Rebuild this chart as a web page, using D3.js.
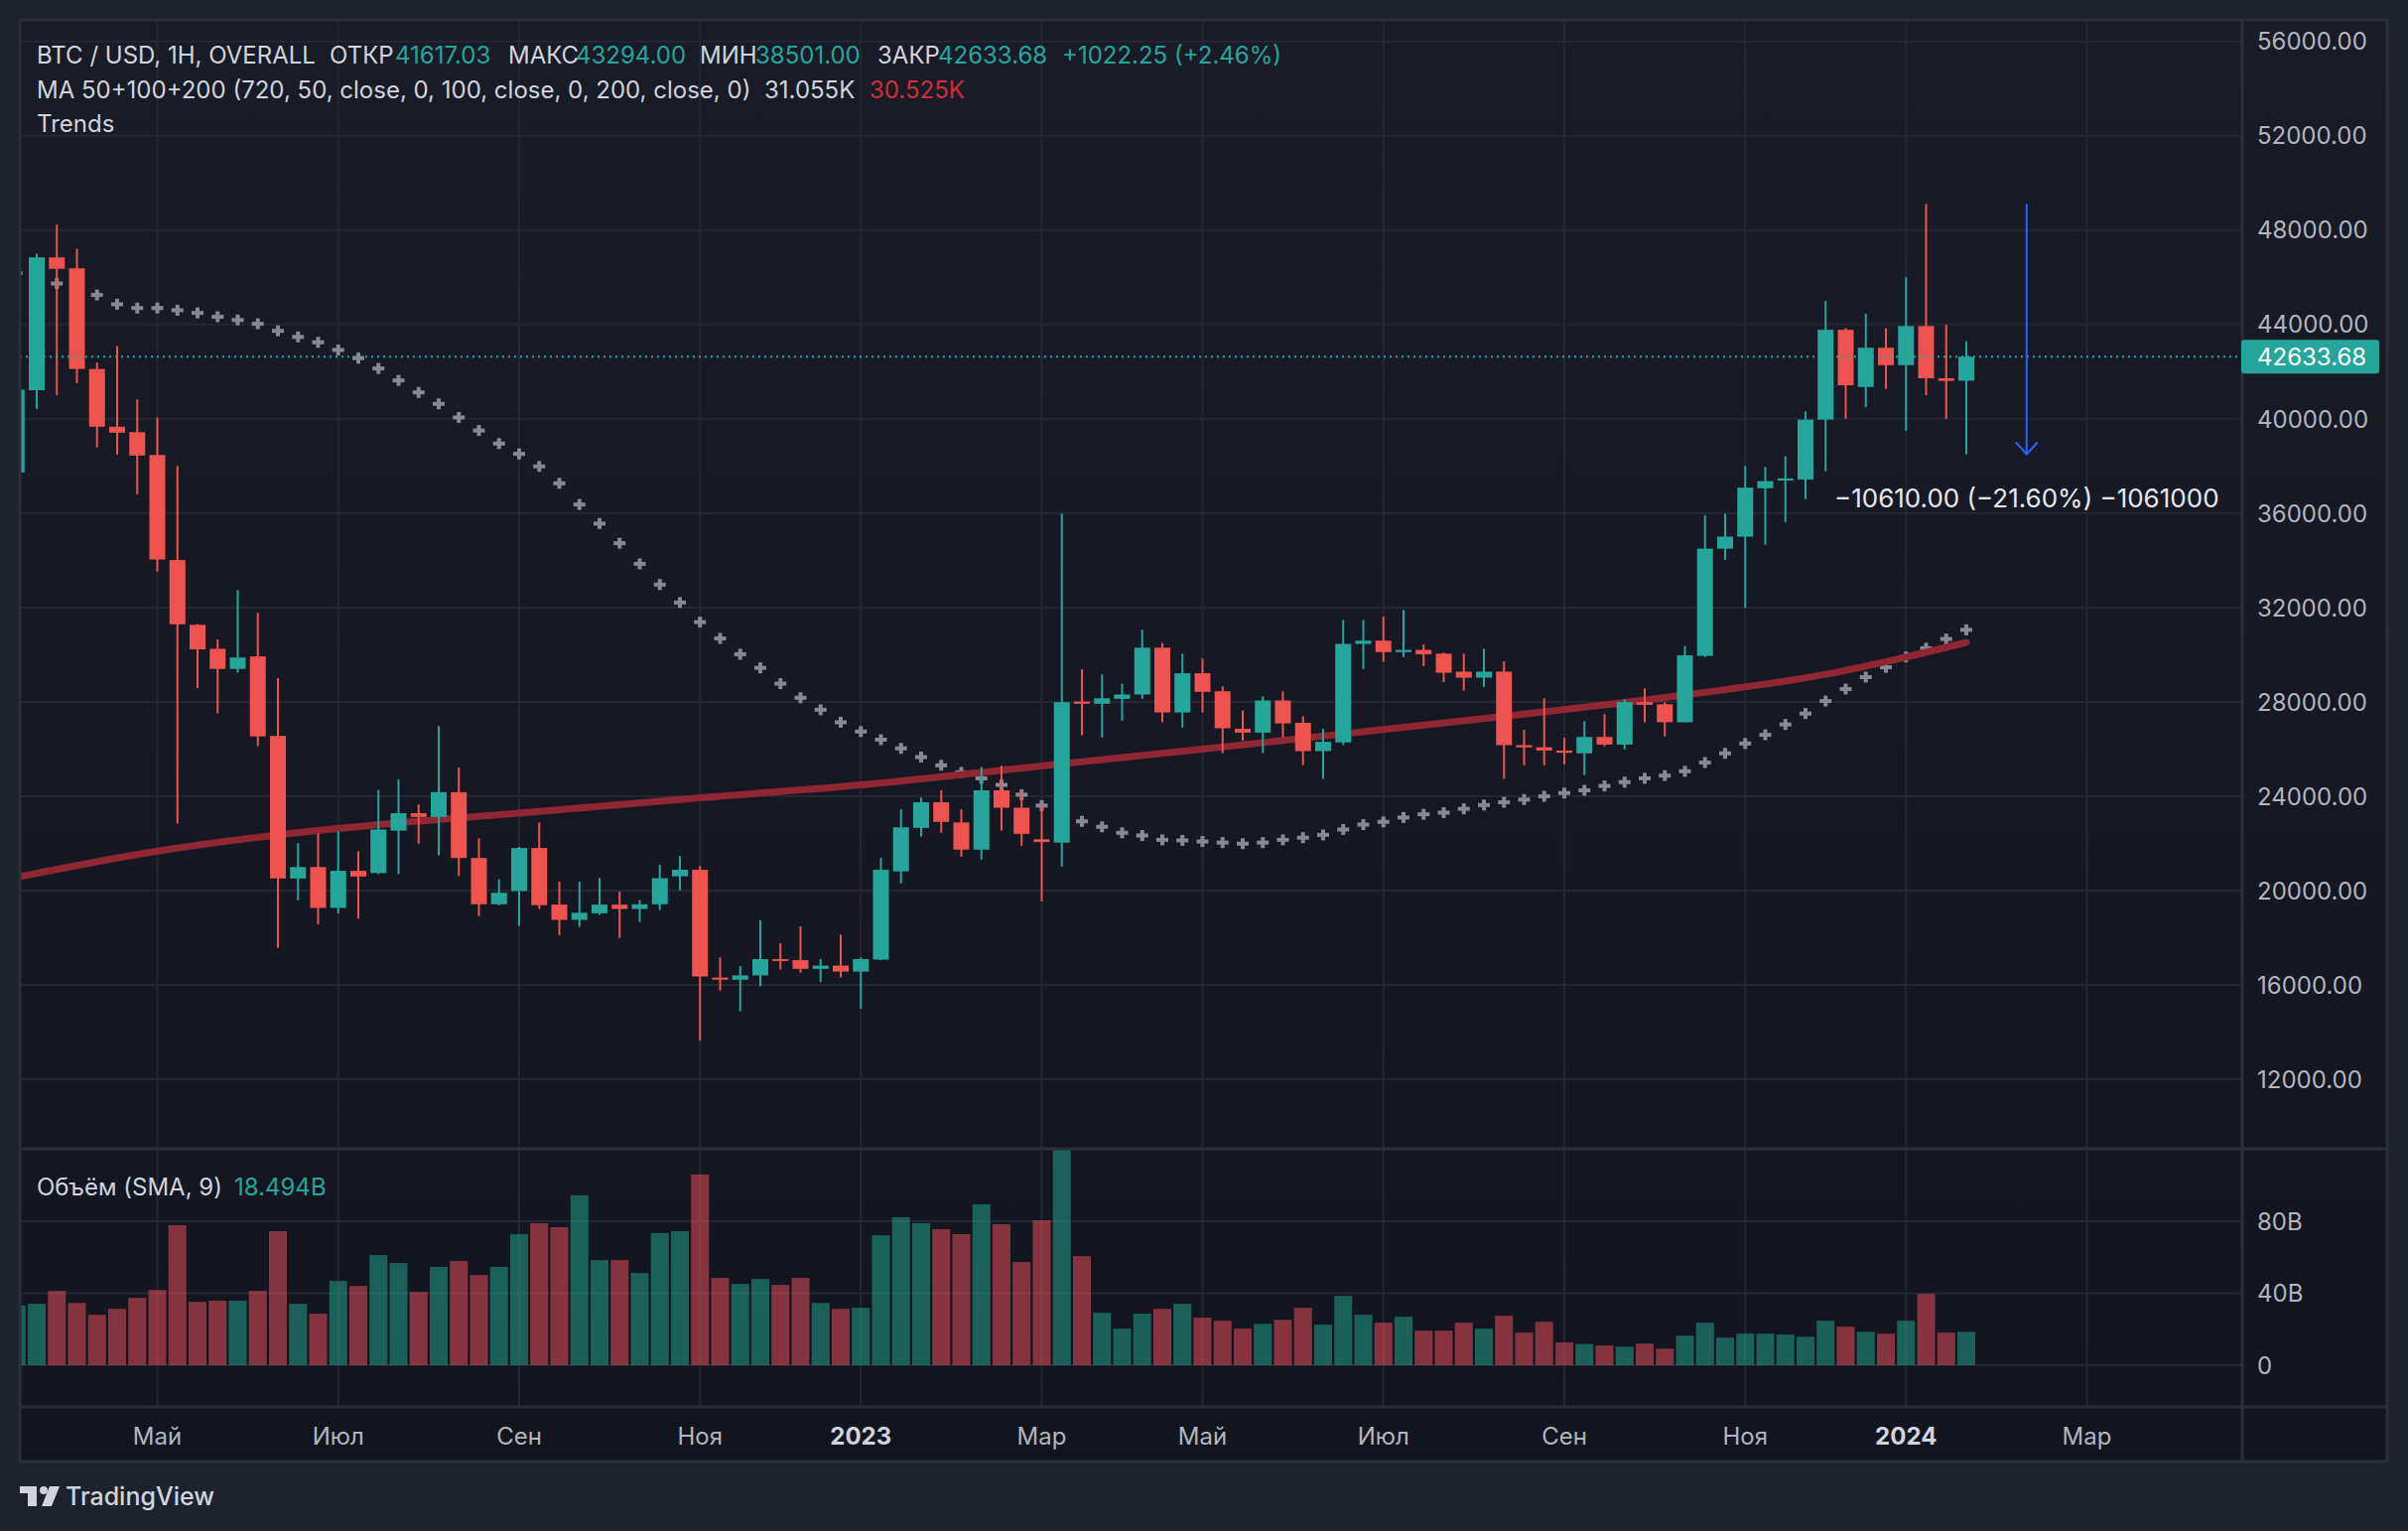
<!DOCTYPE html>
<html>
<head>
<meta charset="utf-8">
<script src="https://cdnjs.cloudflare.com/ajax/libs/d3/7.8.5/d3.min.js"></script>
<style>
  body { margin: 0; background: #1e222d; }
  svg { display: block; font-family: Inter, 'Noto Sans', sans-serif; }
</style>
</head>
<body>
<div id="chart"></div>
<script>
// weekly BTC/USD candles, first week starts 2022-03-14
const opens = [
  37730, 41214, 46846, 46384, 42115, 39668, 39437, 38468, 34013, 31267,
  30251, 29397, 29928, 26558, 20512, 20996, 19265, 20835, 20743, 22543,
  23281, 23120, 24174, 21381, 19419, 19981, 21804, 19404, 18758, 19035,
  19404, 19219, 19419, 20604, 20881, 16311, 16219, 16404, 17096, 17050,
  16681, 16819, 16565, 17073, 20812, 22658, 23743, 22889, 21735, 24251,
  23512, 22174, 22035, 28013, 27920, 28128, 28313, 30298, 27551, 29213,
  28451, 26859, 26697, 28059, 27113, 25913, 26282, 30459, 30597, 30113,
  30205, 30044, 29282, 29028, 29282, 26166, 26074, 25936, 25820, 26512,
  26189, 27990, 27897, 27136, 29951, 34498, 35006, 37060, 37383, 37429,
  39968, 43777, 41353, 43015, 42276, 43938, 41722, 41617.03
];
const highs = [
  41500, 47008, 48231, 47215, 42392, 43084, 40822, 40060, 38006, 31300,
  30644, 32744, 31775, 29005, 22012, 22427, 22519, 21666, 24274, 24712,
  23650, 26974, 25220, 22219, 20481, 21850, 22889, 20373, 20373, 20535,
  19958, 19604, 21089, 21458, 21042, 17165, 16796, 18734, 17765, 18481,
  17096, 18135, 17165, 21389, 23443, 23950, 24251, 23443, 25243, 25289,
  24205, 23627, 35975, 29374, 29166, 28774, 31059, 30505, 30044, 29836,
  28659, 27643, 28243, 28451, 27390, 26859, 31475, 31475, 31613, 31890,
  30436, 30090, 30044, 30251, 29721, 26813, 28151, 26466, 27182, 27482,
  28105, 28566, 27990, 30367, 35906, 35975, 38006, 37960, 38422, 40314,
  45000, 43850, 44450, 43850, 46000, 49111, 43990, 43294
];
const lows = [
  37300, 40430, 41007, 41514, 38791, 38491, 36806, 33529, 22843, 28590,
  27505, 29236, 26120, 17581, 19589, 18573, 19035, 18804, 20700, 20700,
  21989, 21496, 20620, 18911, 19380, 18504, 19219, 18111, 18458, 18966,
  17996, 18665, 19173, 20004, 13634, 15758, 14881, 15942, 16658, 16519,
  16119, 16312, 14996, 17050, 20304, 22289, 22450, 21435, 21319, 22543,
  21896, 19542, 21020, 26582, 26489, 27205, 28128, 27136, 26905, 27551,
  25820, 26351, 25820, 26489, 25312, 24735, 26166, 29397, 29697, 29905,
  29513, 28843, 28474, 28636, 24735, 25312, 25312, 25358, 24897, 26120,
  25982, 27136, 26535, 27136, 29905, 34013, 31983, 34660, 35629, 36598,
  37775, 40000, 40500, 41268, 39500, 41000, 40000, 38501
];
const closes = [
  41240, 46846, 46361, 42115, 39668, 39414, 38445, 34037, 31290, 30228,
  29397, 29882, 26536, 20512, 20996, 19265, 20835, 20596, 22589, 23281,
  23120, 24174, 21381, 19419, 19904, 21804, 19381, 18758, 19058, 19404,
  19219, 19419, 20527, 20881, 16357, 16219, 16404, 17096, 17027, 16681,
  16819, 16565, 17096, 20881, 22681, 23743, 22912, 21735, 24251, 23512,
  22404, 22058, 27990, 27920, 28151, 28313, 30298, 27551, 29213, 28428,
  26882, 26697, 28059, 27089, 25913, 26305, 30459, 30597, 30113, 30205,
  30020, 29236, 29028, 29282, 26166, 26074, 25936, 25843, 26512, 26189,
  27990, 27874, 27136, 29974, 34498, 35006, 37083, 37360, 37475, 39968,
  43777, 41422, 43015, 42276, 43938, 41722, 41611.43, 42633.68
];
// volume in billions
const volumes = [
  33.2, 34.1, 41.3, 34.6, 28.0, 31.3, 37.4, 41.8, 77.8, 35.2,
  35.8, 35.8, 41.3, 74.5, 34.1, 28.6, 46.8, 44.0, 61.2, 56.8,
  40.7, 54.6, 57.9, 50.1, 54.6, 72.8, 78.9, 76.7, 94.4, 58.4,
  58.4, 51.2, 73.4, 74.5, 106.0, 48.5, 45.2, 47.9, 44.6, 48.5,
  34.6, 31.3, 31.9, 72.2, 82.2, 78.9, 75.6, 72.8, 89.4, 78.3,
  57.3, 80.5, 120.3, 60.6, 29.1, 20.3, 28.6, 31.3, 34.1, 26.4,
  24.7, 20.3, 23.0, 25.2, 31.9, 22.5, 38.5, 28.0, 23.6, 26.9,
  19.2, 19.2, 23.6, 20.3, 27.5, 18.1, 24.1, 12.7, 11.8, 10.9,
  10.3, 12.0, 9.2, 16.4, 23.6, 15.3, 17.5, 17.5, 17.0, 15.8,
  24.7, 21.4, 18.6, 17.5, 24.7, 39.6, 18.1, 18.494
];
// "Trends" cross plot
const trendValues = [
  46177, 45960, 45738, 45480, 45254, 44861, 44700, 44700, 44607, 44492,
  44330, 44192, 44030, 43730, 43476, 43245, 42922, 42576, 42138, 41630,
  41122, 40637, 40060, 39506, 38952, 38514, 37983, 37268, 36368, 35560,
  34729, 33852, 32975, 32213, 31382, 30690, 30020, 29444, 28774, 28174,
  27666, 27136, 26743, 26397, 26028, 25659, 25312, 25012, 24758, 24481,
  24066, 23604, 23240, 22935, 22704, 22450, 22335, 22150, 22127, 22081,
  22035, 21989, 22035, 22150, 22243, 22358, 22589, 22797, 22912, 23096,
  23235, 23304, 23466, 23627, 23743, 23858, 23996, 24135, 24251, 24435,
  24597, 24758, 24874, 25058, 25428, 25820, 26235, 26605, 27044, 27505,
  28036, 28543, 29051, 29467, 29905, 30274, 30667, 31055
];
// long moving average, read at a few weeks
const maWeeks = [0, 7, 13, 19, 25, 34, 42, 48, 59, 74, 83, 90, 94, 97];
const maValues = [20560, 21670, 22360, 22870, 23280, 23930, 24480, 25010, 26000, 27390, 28290, 29170, 29900, 30525];

const priceTicks = [12000, 16000, 20000, 24000, 28000, 32000, 36000, 40000, 44000, 48000, 52000, 56000];
const volumeTicks = [0, 40, 80];
const volumeTickLabels = ['0', '40B', '80B'];
const monthLabels = ['Май', 'Июл', 'Сен', 'Ноя', '2023', 'Мар', 'Май', 'Июл', 'Сен', 'Ноя', '2024', 'Мар'];
const monthDates = ['2022-05-02', '2022-07-04', '2022-09-05', '2022-11-07', '2023-01-02', '2023-03-06',
  '2023-05-01', '2023-07-03', '2023-09-04', '2023-11-06', '2024-01-01', '2024-03-04'];

// measure arrow
const measureFrom = 49111,
  measureTo = 38501,
  measureWeek = 100;

const parseDate = d3.timeParse('%Y-%m-%d');
const firstWeek = parseDate('2022-03-14');
const weeks = opens.map(function (d, i) {
  return d3.timeDay.offset(firstWeek, 7 * i);
});

const W = 2426,
  H = 1542;
const pane = {
  left: 20,
  right: 2259,
  outerRight: 2405,
  top: 20,
  priceBottom: 1157,
  volBottom: 1417,
  axisBottom: 1472
};

const teal = '#26a69a',
  red = '#ef5350',
  gridColor = '#232733',
  borderColor = '#2a2e39',
  axisText = '#b2b5be',
  lightText = '#d1d4dc';

const x = d3.scaleTime()
  .domain([weeks[0], weeks[weeks.length - 1]])
  .range([16.75, 1981]);

const y = d3.scaleLinear()
  .domain([12000, 56000])
  .range([1087, 41.8]);

const yVol = d3.scaleLinear()
  .domain([0, 80])
  .range([1375, 1230]);

const svg = d3.select('#chart')
  .append('svg')
  .attr('width', W)
  .attr('height', H)
  .attr('viewBox', '0 0 ' + W + ' ' + H);

const defs = svg.append('defs');

const grad = defs.append('linearGradient')
  .attr('id', 'bgGrad')
  .attr('x1', 0).attr('y1', 0)
  .attr('x2', 0).attr('y2', 1);
grad.append('stop').attr('offset', '0%').attr('stop-color', '#191c27');
grad.append('stop').attr('offset', '100%').attr('stop-color', '#12151e');

defs.append('clipPath').attr('id', 'priceClip')
  .append('rect')
  .attr('x', pane.left).attr('y', pane.top)
  .attr('width', pane.right - pane.left)
  .attr('height', pane.priceBottom - pane.top);

defs.append('clipPath').attr('id', 'volClip')
  .append('rect')
  .attr('x', pane.left).attr('y', pane.priceBottom)
  .attr('width', pane.right - pane.left)
  .attr('height', pane.volBottom - pane.priceBottom);

//Backgrounds
svg.append('rect')
  .attr('width', W).attr('height', H)
  .style('fill', '#1e222d');

svg.append('rect')
  .attr('x', pane.left).attr('y', pane.top)
  .attr('width', pane.outerRight - pane.left)
  .attr('height', pane.axisBottom - pane.top)
  .style('fill', 'url(#bgGrad)');

//Grid
const grid = svg.append('g').attr('class', 'grid');

grid.selectAll('.vgrid')
  .data(monthDates)
  .enter().append('line')
  .attr('class', 'vgrid')
  .attr('x1', function (d) { return x(parseDate(d)); })
  .attr('x2', function (d) { return x(parseDate(d)); })
  .attr('y1', pane.top)
  .attr('y2', pane.volBottom)
  .style('stroke', gridColor)
  .style('stroke-width', 2);

grid.selectAll('.hgrid')
  .data(priceTicks)
  .enter().append('line')
  .attr('class', 'hgrid')
  .attr('x1', pane.left)
  .attr('x2', pane.right)
  .attr('y1', function (d) { return y(d); })
  .attr('y2', function (d) { return y(d); })
  .style('stroke', gridColor)
  .style('stroke-width', 2);

grid.selectAll('.vhgrid')
  .data(volumeTicks)
  .enter().append('line')
  .attr('class', 'vhgrid')
  .attr('x1', pane.left)
  .attr('x2', pane.right)
  .attr('y1', function (d) { return yVol(d); })
  .attr('y2', function (d) { return yVol(d); })
  .style('stroke', gridColor)
  .style('stroke-width', 2);

//Price pane
const pricePane = svg.append('g').attr('clip-path', 'url(#priceClip)');

//Trend crosses (behind candles)
const crosses = pricePane.selectAll('.cross')
  .data(trendValues)
  .enter().append('g')
  .attr('class', 'cross')
  .attr('transform', function (d, i) {
    return 'translate(' + x(weeks[i]) + ',' + y(d) + ')';
  })
  .style('fill', '#868993');
crosses.append('rect').attr('x', -6).attr('y', -2).attr('width', 12).attr('height', 4);
crosses.append('rect').attr('x', -2).attr('y', -5.5).attr('width', 4).attr('height', 11);

//Moving average line
const maLine = d3.line()
  .x(function (d, i) { return x(weeks[maWeeks[i]]); })
  .y(function (d) { return y(d); })
  .curve(d3.curveMonotoneX);

pricePane.append('path')
  .datum(maValues)
  .attr('d', maLine)
  .style('fill', 'none')
  .style('stroke', '#8e2634')
  .style('stroke-width', 7)
  .style('stroke-linecap', 'round');

//Candles
const candles = pricePane.selectAll('.candle')
  .data(opens)
  .enter().append('g')
  .attr('class', 'candle')
  .style('fill', function (d, i) { return closes[i] >= d ? teal : red; })
  .style('stroke', function (d, i) { return closes[i] >= d ? teal : red; });

candles.append('line')
  .attr('x1', function (d, i) { return x(weeks[i]); })
  .attr('x2', function (d, i) { return x(weeks[i]); })
  .attr('y1', function (d, i) { return y(highs[i]); })
  .attr('y2', function (d, i) { return y(lows[i]); })
  .style('stroke-width', 2);

candles.append('rect')
  .attr('x', function (d, i) { return x(weeks[i]) - 8; })
  .attr('width', 16)
  .attr('y', function (d, i) { return y(Math.max(d, closes[i])); })
  .attr('height', function (d, i) { return Math.max(2, Math.abs(y(d) - y(closes[i]))); })
  .style('stroke', 'none');

//Last price line
const lastClose = closes[closes.length - 1];
svg.append('line')
  .attr('x1', pane.left)
  .attr('x2', pane.right)
  .attr('y1', y(lastClose))
  .attr('y2', y(lastClose))
  .style('stroke', teal)
  .style('stroke-width', 2)
  .style('stroke-dasharray', '2,4');

//Measure arrow
const ax = x(d3.timeDay.offset(firstWeek, 7 * measureWeek));
const arrow = svg.append('g').style('stroke', '#2962ff').style('stroke-width', 2).style('fill', 'none');
arrow.append('line')
  .attr('x1', ax).attr('x2', ax)
  .attr('y1', y(measureFrom)).attr('y2', y(measureTo));
arrow.append('path')
  .attr('d', 'M' + (ax - 11) + ',' + (y(measureTo) - 12) + 'L' + ax + ',' + y(measureTo) + 'L' + (ax + 11) + ',' + (y(measureTo) - 12));

const diff = measureTo - measureFrom;
svg.append('text')
  .attr('x', ax)
  .attr('y', y(measureTo) + 54)
  .attr('text-anchor', 'middle')
  .style('fill', '#e6e8ee')
  .style('font-size', '26px')
  .text(d3.format('.2f')(diff).replace('-', '\u2212') + ' (' + d3.format('.2f')(diff / measureFrom * 100).replace('-', '\u2212') +
    '%) ' + d3.format('d')(diff * 100).replace('-', '\u2212'));

//Volume pane
const volPane = svg.append('g').attr('clip-path', 'url(#volClip)');

volPane.selectAll('.vol')
  .data(volumes)
  .enter().append('rect')
  .attr('class', 'vol')
  .attr('x', function (d, i) { return x(weeks[i]) - 9; })
  .attr('width', 18)
  .attr('y', function (d) { return yVol(d); })
  .attr('height', function (d) { return yVol(0) - yVol(d); })
  .style('fill', function (d, i) {
    return closes[i] >= opens[i] ? 'rgba(34,171,148,0.5)' : 'rgba(247,82,95,0.5)';
  });

//Pane borders
const borders = svg.append('g').style('stroke', borderColor).style('stroke-width', 3).style('fill', 'none');
borders.append('rect')
  .attr('x', pane.left).attr('y', pane.top)
  .attr('width', pane.outerRight - pane.left)
  .attr('height', pane.axisBottom - pane.top);
borders.append('line').attr('x1', pane.left).attr('x2', pane.outerRight).attr('y1', pane.priceBottom).attr('y2', pane.priceBottom);
borders.append('line').attr('x1', pane.left).attr('x2', pane.outerRight).attr('y1', pane.volBottom).attr('y2', pane.volBottom);
borders.append('line').attr('x1', pane.right).attr('x2', pane.right).attr('y1', pane.top).attr('y2', pane.axisBottom);

//Right price axis
svg.selectAll('.priceLabel')
  .data(priceTicks)
  .enter().append('text')
  .attr('class', 'priceLabel')
  .attr('x', 2274)
  .attr('y', function (d) { return y(d); })
  .attr('dy', '0.36em')
  .style('fill', axisText)
  .style('font-size', '24px')
  .text(function (d) { return d3.format('.2f')(d); });

svg.selectAll('.volLabel')
  .data(volumeTicks)
  .enter().append('text')
  .attr('class', 'volLabel')
  .attr('x', 2274)
  .attr('y', function (d) { return yVol(d); })
  .attr('dy', '0.36em')
  .style('fill', axisText)
  .style('font-size', '24px')
  .text(function (d, i) { return volumeTickLabels[i]; });

//Last price tag
svg.append('rect')
  .attr('x', 2258).attr('y', y(lastClose) - 17)
  .attr('width', 139).attr('height', 34)
  .attr('rx', 3)
  .style('fill', teal);
svg.append('text')
  .attr('x', 2274)
  .attr('y', y(lastClose))
  .attr('dy', '0.36em')
  .style('fill', '#ffffff')
  .style('font-size', '24px')
  .text(d3.format('.2f')(lastClose));

//Time axis
svg.selectAll('.timeLabel')
  .data(monthDates)
  .enter().append('text')
  .attr('class', 'timeLabel')
  .attr('x', function (d) { return x(parseDate(d)); })
  .attr('y', 1446)
  .attr('dy', '0.36em')
  .attr('text-anchor', 'middle')
  .style('fill', function (d, i) { return /^\d/.test(monthLabels[i]) ? lightText : axisText; })
  .style('font-weight', function (d, i) { return /^\d/.test(monthLabels[i]) ? 700 : 400; })
  .style('font-size', '24px')
  .text(function (d, i) { return monthLabels[i]; });

//Legend texts
const fmt2 = d3.format('.2f');
const prevClose = closes[closes.length - 2];
const header1 = [
  { t: 'BTC / USD, 1H, OVERALL', c: lightText, x: 37 },
  { t: 'ОТКР', c: lightText, x: 332 },
  { t: fmt2(opens[opens.length - 1]), c: teal, x: 398 },
  { t: 'МАКС', c: lightText, x: 512 },
  { t: fmt2(highs[highs.length - 1]), c: teal, x: 580 },
  { t: 'МИН', c: lightText, x: 705 },
  { t: fmt2(lows[lows.length - 1]), c: teal, x: 761 },
  { t: 'ЗАКР', c: lightText, x: 884 },
  { t: fmt2(lastClose), c: teal, x: 945 },
  { t: '+' + fmt2(lastClose - prevClose) + ' (+' + fmt2((lastClose - prevClose) / prevClose * 100) + '%)', c: teal, x: 1070 }
];
const header2 = [
  { t: 'MA 50+100+200 (720, 50, close, 0, 100, close, 0, 200, close, 0)', c: lightText, x: 37 },
  { t: d3.format('.3f')(trendValues[trendValues.length - 1] / 1000) + 'K', c: lightText, x: 770 },
  { t: d3.format('.3f')(maValues[maValues.length - 1] / 1000) + 'K', c: '#cc2f3c', x: 876 }
];

function legendLine(items, yPos) {
  svg.selectAll(null)
    .data(items)
    .enter().append('text')
    .attr('x', function (d) { return d.x; })
    .attr('y', yPos)
    .attr('dy', '0.36em')
    .style('fill', function (d) { return d.c; })
    .style('font-size', '24px')
    .text(function (d) { return d.t; });
}
legendLine(header1, 55);
legendLine(header2, 90);
legendLine([{ t: 'Trends', c: lightText, x: 37 }], 124);
legendLine([
  { t: 'Объём (SMA, 9)', c: lightText, x: 37 },
  { t: d3.format('.3f')(volumes[volumes.length - 1]) + 'B', c: teal, x: 236 }
], 1195);

//TradingView logo
const logo = svg.append('g').style('fill', lightText);
logo.append('rect').attr('x', 20).attr('y', 1497).attr('width', 17).attr('height', 7);
logo.append('rect').attr('x', 28).attr('y', 1497).attr('width', 9).attr('height', 20);
logo.append('circle').attr('cx', 44).attr('cy', 1501).attr('r', 4);
logo.append('path').attr('d', 'M50,1497L60,1497L52,1517L42,1517Z');
logo.append('text')
  .attr('x', 66).attr('y', 1507)
  .attr('dy', '0.36em')
  .style('font-size', '25px')
  .style('font-weight', 500)
  .text('TradingView');
</script>
</body>
</html>
